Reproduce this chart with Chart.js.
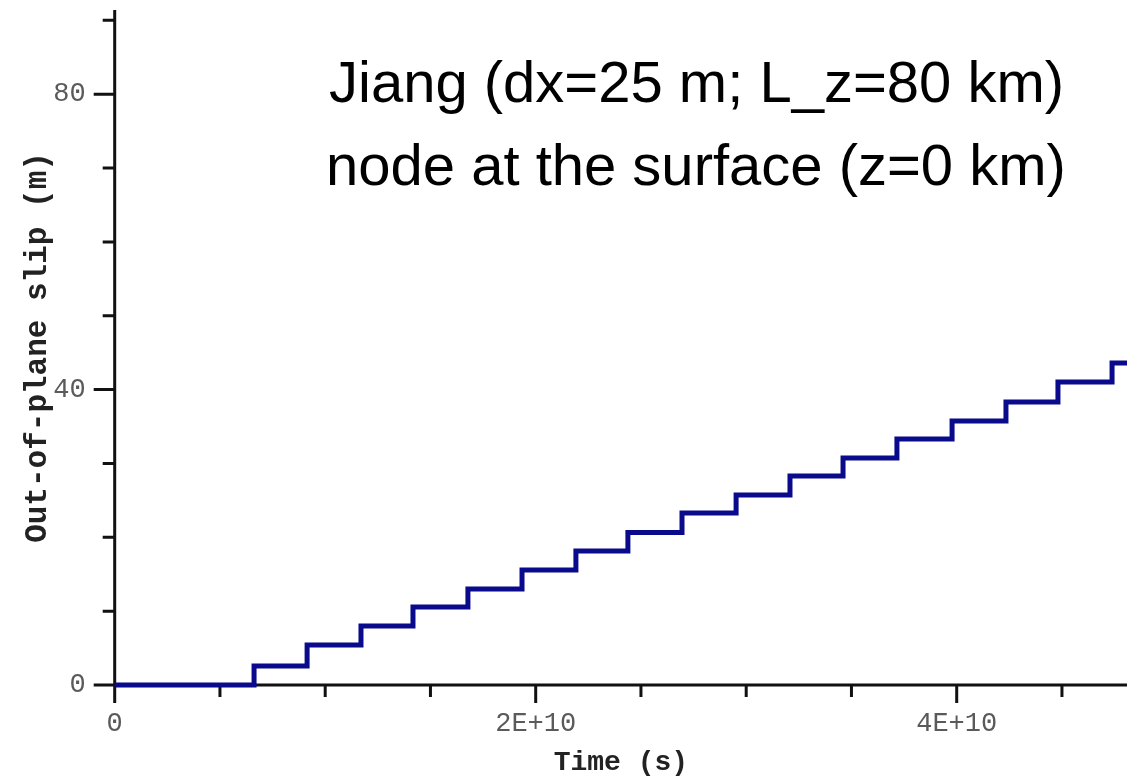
<!DOCTYPE html>
<html>
<head>
<meta charset="utf-8">
<title>Out-of-plane slip at the surface node</title>
<script src="https://cdn.jsdelivr.net/npm/chart.js@4.4.1/dist/chart.umd.min.js"></script>
<style>
  html, body { margin: 0; padding: 0; background: #fff; }
  #slipChart { display: block; }
</style>
</head>
<body>
<canvas id="slipChart" width="1127" height="776"></canvas>
<script>
// times (s) at which slip jumps, and the slip (m) reached after each jump
var stepTimes = [0, 6.62e9, 9.14e9, 11.70e9, 14.17e9, 16.78e9, 19.35e9, 21.91e9, 24.38e9,
                 26.95e9, 29.52e9, 32.08e9, 34.60e9, 37.16e9, 39.78e9, 42.34e9, 44.81e9, 47.38e9];
var slipLevels = [0, 2.57, 5.42, 7.99, 10.56, 13.0, 15.57, 18.15, 20.65,
                  23.29, 25.73, 28.30, 30.74, 33.32, 35.75, 38.33, 41.03, 43.61];
var timeEnd = 4.809e10;   // right edge of the plot
var slipTop = 91.4;       // top of the y axis

// tick marks every 5E+9 s / 10 m, labels only on the major ones
var xTickStep = 5e9;
var yTickStep = 10;
var xTickValues = [0, 2e10, 4e10];
var xTickLabels = ['0', '2E+10', '4E+10'];
var yTickValues = [0, 40, 80];
var yTickLabels = ['0', '40', '80'];

var noteLines = ['Jiang (dx=25 m; L_z=80 km)', 'node at the surface (z=0 km)'];

var points = stepTimes.map(function (t, i) { return { x: t, y: slipLevels[i] }; });
points.push({ x: timeEnd, y: slipLevels[slipLevels.length - 1] });

function labelFor(values, labels, v) {
  for (var i = 0; i < values.length; i++) {
    if (Math.abs(values[i] - v) < 1e-6 * (Math.abs(v) + 1)) return labels[i];
  }
  return '';
}

function stepTicks(step, max) {
  var out = [];
  for (var i = 0; i * step <= max; i++) out.push({ value: i * step });
  return out;
}

// black axis lines with long major / short minor ticks, drawn under the line
var axesPlugin = {
  id: 'plotAxes',
  beforeDatasetsDraw: function (chart) {
    var ctx = chart.ctx, a = chart.chartArea;
    var xs = chart.scales.x, ys = chart.scales.y;
    ctx.save();
    ctx.strokeStyle = '#111';
    ctx.lineWidth = 3;
    ctx.beginPath();
    ctx.moveTo(a.left, a.top);
    ctx.lineTo(a.left, a.bottom);
    ctx.moveTo(a.left, a.bottom);
    ctx.lineTo(a.right, a.bottom);
    ys.ticks.forEach(function (t) {
      var py = ys.getPixelForValue(t.value);
      var len = labelFor(yTickValues, yTickLabels, t.value) ? 21 : 12;
      ctx.moveTo(a.left - len, py);
      ctx.lineTo(a.left, py);
    });
    xs.ticks.forEach(function (t) {
      var px = xs.getPixelForValue(t.value);
      var len = labelFor(xTickValues, xTickLabels, t.value) ? 18 : 12;
      ctx.moveTo(px, a.bottom);
      ctx.lineTo(px, a.bottom + len);
    });
    ctx.stroke();
    ctx.restore();
  },
  afterDraw: function (chart) {
    var ctx = chart.ctx;
    ctx.save();
    ctx.fillStyle = '#000';
    ctx.font = '58px "Liberation Sans", Arial, sans-serif';
    ctx.textBaseline = 'alphabetic';
    ctx.fillText(noteLines[0], 329, 102);
    ctx.fillText(noteLines[1], 326, 185);
    ctx.restore();
  }
};

var tickFont = { family: '"Liberation Mono", monospace', size: 27 };

new Chart(document.getElementById('slipChart'), {
  type: 'line',
  data: {
    datasets: [{
      data: points,
      stepped: true,
      borderColor: '#0a0a8c',
      borderWidth: 5,
      borderJoinStyle: 'miter',
      pointRadius: 0,
      fill: false,
      clip: false
    }]
  },
  options: {
    responsive: false,
    animation: false,
    devicePixelRatio: 1,
    layout: { padding: { top: 10, right: 0, bottom: 0, left: 0 } },
    plugins: {
      legend: { display: false },
      tooltip: { enabled: false }
    },
    scales: {
      x: {
        type: 'linear',
        min: 0,
        max: timeEnd,
        grid: { display: false, drawTicks: false },
        border: { display: false },
        afterBuildTicks: function (s) { s.ticks = stepTicks(xTickStep, timeEnd); },
        ticks: {
          autoSkip: false,
          maxRotation: 0,
          padding: 23,
          color: '#5a5a5a',
          font: tickFont,
          callback: function (v) { return labelFor(xTickValues, xTickLabels, v); }
        },
        title: {
          display: true,
          text: 'Time (s)',
          color: '#222',
          font: { family: '"Liberation Mono", monospace', size: 28, weight: 'bold' },
          padding: { top: 0, bottom: -4 }
        },
        afterFit: function (s) {
          s.height = 91;
          s.paddingLeft = 0;
          s.paddingRight = 0;
        }
      },
      y: {
        type: 'linear',
        min: 0,
        max: slipTop,
        grid: { display: false, drawTicks: false },
        border: { display: false },
        afterBuildTicks: function (s) { s.ticks = stepTicks(yTickStep, slipTop); },
        ticks: {
          autoSkip: false,
          padding: 29,
          color: '#5a5a5a',
          font: tickFont,
          callback: function (v) { return labelFor(yTickValues, yTickLabels, v); }
        },
        title: {
          display: true,
          text: 'Out-of-plane slip (m)',
          color: '#222',
          font: { family: '"Liberation Mono", monospace', size: 31, weight: 'bold' },
          padding: { top: 20, bottom: 0 }
        },
        afterFit: function (s) {
          s.width = 114.7;
          s.paddingTop = 0;
          s.paddingBottom = 0;
        }
      }
    }
  },
  plugins: [axesPlugin]
});
</script>
</body>
</html>
